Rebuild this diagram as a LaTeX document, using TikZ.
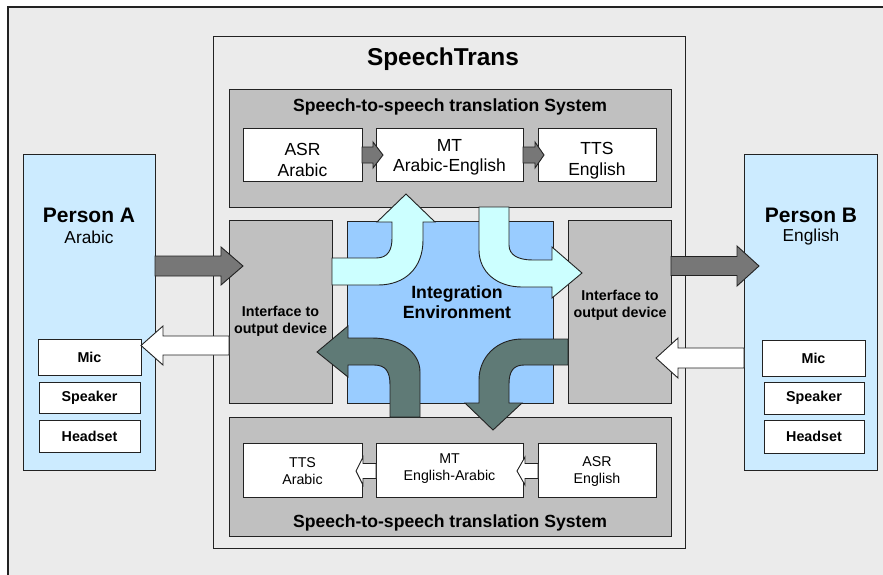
\documentclass[tikz,border=0pt]{standalone}
\usepackage{fontspec}
\setmainfont{Liberation Sans}
\definecolor{bgc}{HTML}{EBEBEB}
\definecolor{grayc}{HTML}{C0C0C0}
\definecolor{iec}{HTML}{99CCFF}
\definecolor{personc}{HTML}{CCEBFF}
\definecolor{cyanc}{HTML}{CCFFFF}
\definecolor{slatec}{HTML}{5F7A76}
\definecolor{darkc}{HTML}{777777}
\definecolor{linec}{HTML}{222222}
\newcommand\myfs[2]{\fontsize{#1}{#2}\selectfont}
% \myArrow{style}{tail x}{base x}{tip x}{y centre}{shaft half}{head half}
\newcommand\myArrow[7]{%
  \draw[#1] (#2,#5-#6) -- (#3,#5-#6) -- (#3,#5-#7) -- (#4,#5) -- (#3,#5+#7) -- (#3,#5+#6) -- (#2,#5+#6) -- cycle;}
\begin{document}
\begin{tikzpicture}[x=1pt,y=-1pt,
  box/.style={draw=linec,line width=0.9pt,inner sep=0pt,outer sep=0pt,rectangle},
  whitebox/.style={box,fill=white,align=center},
  graybox/.style={box,fill=grayc},
  arrowshape/.style={draw=linec,line width=0.9pt,line join=miter},
  lbl/.style={inner sep=0pt,align=center}]
\useasboundingbox (0,0) rectangle (883,574);
\clip (0,0) rectangle (883,574);
\fill[white] (0,0) rectangle (883,574);
% outer frame
\draw[fill=bgc,draw=linec,line width=1.2pt] (8,7) rectangle (920,620);
% SpeechTrans box
\node[box,fill=bgc,minimum width=472pt,minimum height=512pt] (st) at (449,292) {};
\node[lbl,font=\bfseries\myfs{24.4}{28}] (sttitle) at (443,59) {SpeechTrans};
% top system
\node[graybox,minimum width=442pt,minimum height=118pt] (top) at (450,148) {};
\node[lbl,font=\bfseries\myfs{17.6}{20}] (toptitle) at (450,107) {Speech-to-speech translation System};
\node[whitebox,minimum width=119pt,minimum height=53pt] (asr1) at (302.5,154.5) {};
\node[lbl,font=\myfs{17.5}{20.5}] (asr1t) at (302.5,160) {ASR\\Arabic};
\node[whitebox,minimum width=147pt,minimum height=53pt] (mt1) at (449.5,154.5) {};
\node[lbl,font=\myfs{17.5}{20.5}] (mt1t) at (449.5,157.5) {MT\\Arabic-English};
\node[whitebox,minimum width=118pt,minimum height=53pt] (tts1) at (597,154.5) {};
\node[lbl,font=\myfs{17.5}{20.5}] (tts1t) at (597,160.5) {TTS\\English};
% bottom system
\node[graybox,minimum width=442pt,minimum height=119pt] (bot) at (450,476.5) {};
\node[lbl,font=\bfseries\myfs{17.6}{20}] (bottitle) at (450,523) {Speech-to-speech translation System};
\node[whitebox,minimum width=119pt,minimum height=54pt] (tts2) at (302.5,470) {};
\node[lbl,font=\myfs{14.2}{17}] (tts2t) at (302.5,471.5) {TTS\\Arabic};
\node[whitebox,minimum width=147pt,minimum height=54pt] (mt2) at (449.5,470) {};
\node[lbl,font=\myfs{14.2}{17}] (mt2t) at (449.5,468.5) {MT\\English-Arabic};
\node[whitebox,minimum width=118pt,minimum height=54pt] (asr2) at (597,470) {};
\node[lbl,font=\myfs{14.2}{17}] (asr2t) at (597,471.5) {ASR\\English};
% interface and integration boxes
\node[graybox,minimum width=103pt,minimum height=183pt] (ifL) at (280.5,311.5) {};
\node[lbl,font=\bfseries\myfs{14.3}{17}] (ifLt) at (280.5,321.5) {Interface to\\output device};
\node[graybox,minimum width=103pt,minimum height=183pt] (ifR) at (619.5,311.5) {};
\node[lbl,font=\bfseries\myfs{14.3}{17}] (ifRt) at (620,305.5) {Interface to\\output device};
\node[box,fill=iec,minimum width=206pt,minimum height=182pt] (ie) at (450,312) {};
% persons
\node[box,fill=personc,minimum width=132pt,minimum height=316pt] (pA) at (89,312) {};
\node[lbl,font=\bfseries\myfs{21}{24}] (pAt) at (89,215) {Person A};
\node[lbl,font=\myfs{17.3}{20}] (pAl) at (89,237) {Arabic};
\node[whitebox,minimum width=103pt,minimum height=36pt,font=\bfseries\myfs{14.3}{17}] (micA) at (89.5,357) {Mic};
\node[whitebox,minimum width=101pt,minimum height=31pt,font=\bfseries\myfs{14.3}{17}] (spkA) at (89.5,397.5) {Speaker};
\node[whitebox,minimum width=101pt,minimum height=32pt,font=\bfseries\myfs{14.3}{17}] (hdA) at (89.5,436) {Headset};
\node[box,fill=personc,minimum width=133pt,minimum height=316pt] (pB) at (810.5,312) {};
\node[lbl,font=\bfseries\myfs{21}{24}] (pBt) at (811,215) {Person B};
\node[lbl,font=\myfs{17.3}{20}] (pBl) at (811,237) {English};
\node[whitebox,minimum width=103pt,minimum height=36pt,font=\bfseries\myfs{14.3}{17}] (micB) at (813.5,358) {Mic};
\node[whitebox,minimum width=100pt,minimum height=32pt,font=\bfseries\myfs{14.3}{17}] (spkB) at (814,398) {Speaker};
\node[whitebox,minimum width=100pt,minimum height=33pt,font=\bfseries\myfs{14.3}{17}] (hdB) at (814,436.5) {Headset};
% curved block arrows
\draw[arrowshape,fill=cyanc] (332,258) -- (376,258) .. controls (388,258) and (392,250) .. (392,238) -- (392,222) -- (377,222) -- (406,194) -- (435,222) -- (423,222) -- (423,240) .. controls (423,268) and (405,285) .. (378,285) -- (332,285) -- cycle;
\draw[arrowshape,fill=cyanc] (479,207) -- (509,207) -- (509,245) .. controls (509,255) and (518,260) .. (533,260) -- (552,260) -- (552,247) -- (582,273) -- (552,298) -- (552,287) -- (522,287) .. controls (497,287) and (479,272) .. (479,250) -- cycle;
\draw[arrowshape,fill=slatec] (390,417) -- (390,385) .. controls (390,372) and (386,365) .. (374,365) -- (348,365) -- (348,377) -- (317,352) -- (348,326) -- (348,338) -- (372,338) .. controls (400,338) and (420,352) .. (420,372) -- (420,417) -- cycle;
\draw[arrowshape,fill=slatec] (568,339) -- (522,339) .. controls (497,339) and (479,357) .. (479,380) -- (479,403) -- (465,403) -- (493,430) -- (522,403) -- (509,403) -- (509,384) .. controls (509,372) and (513,365) .. (524,365) -- (568,365) -- cycle;
\node[lbl,font=\bfseries\myfs{17.7}{20}] (iet) at (457,302) {Integration\\Environment};
% straight block arrows
\myArrow{arrowshape,fill=darkc}{155}{221}{243}{266}{10}{19}
\myArrow{arrowshape,fill=white}{229}{163}{141}{345.5}{9.5}{19.5}
\myArrow{arrowshape,fill=darkc}{671}{737}{759}{266}{9.5}{20}
\myArrow{arrowshape,fill=white}{744}{678}{656}{358}{10}{20}
\myArrow{arrowshape,fill=darkc}{362}{373}{383}{155}{8}{13}
\myArrow{arrowshape,fill=darkc}{523}{535}{544}{155}{8}{13}
\myArrow{arrowshape,fill=white}{376}{363}{356}{471}{7.5}{14}
\myArrow{arrowshape,fill=white}{538}{525}{517}{471}{7.5}{14}
\end{tikzpicture}
\end{document}
